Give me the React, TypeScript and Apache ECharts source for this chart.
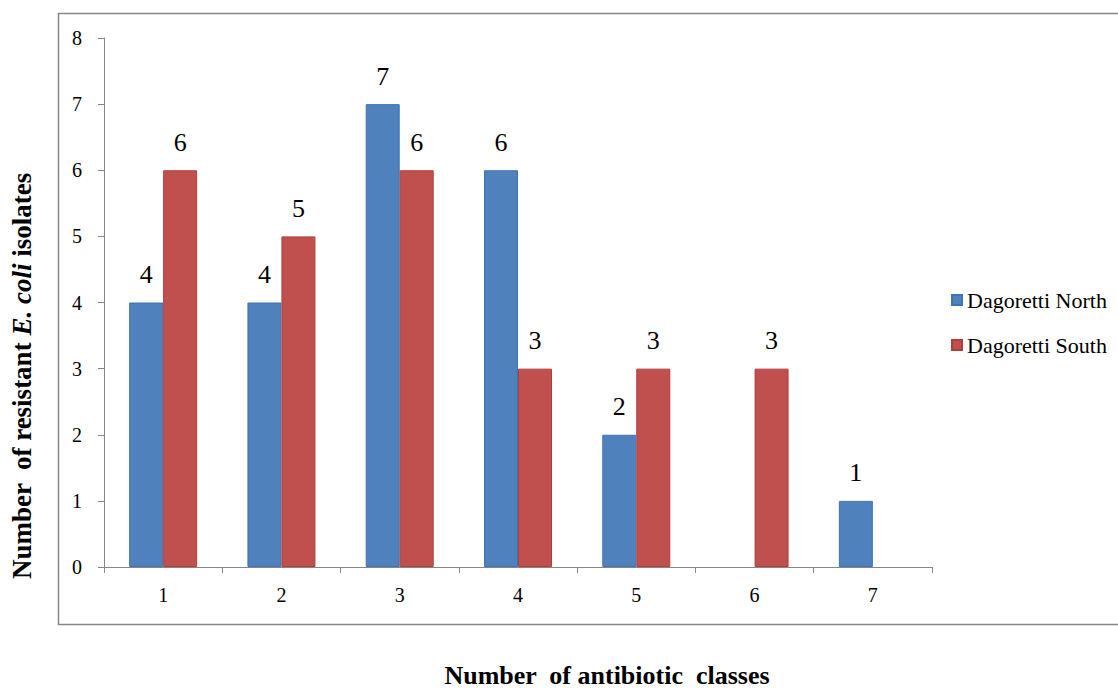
import React, { useEffect, useRef } from "react";
import * as echarts from "echarts";

const categories = ["1", "2", "3", "4", "5", "6", "7"];
const northValues = [4, 4, 7, 6, 2, 0, 1];
const southValues = [6, 5, 6, 3, 3, 3, 0];
const seriesNames = ["Dagoretti North", "Dagoretti South"];

const FONT = "Liberation Serif";

// zero-valued bars get no outline so they leave no sliver on the axis
const toItems = (vals: number[]) =>
  vals.map((v) => (v === 0 ? { value: v, itemStyle: { borderWidth: 0 } } : v));

export default function App() {
  const ref = useRef<HTMLDivElement>(null);

  useEffect(() => {
    if (!ref.current) return;
    const chart = echarts.init(ref.current, undefined, { renderer: "svg" });

    const labelCfg = {
      show: true,
      position: "top" as const,
      distance: 15,
      fontFamily: FONT,
      fontSize: 26,
      color: "#000",
      formatter: (p: any) => (p.value === 0 ? "" : String(p.value)),
    };

    chart.setOption({
      animation: false,
      backgroundColor: "#fff",
      textStyle: { fontFamily: FONT },
      grid: { left: 104, right: 186, top: 38, bottom: 124 },
      legend: {
        orient: "vertical",
        left: 946,
        top: 283,
        itemWidth: 10,
        itemHeight: 10,
        itemGap: 21,
        icon: "rect",
        textStyle: { fontFamily: FONT, fontSize: 22, color: "#000", lineHeight: 24 },
        data: seriesNames,
      },
      xAxis: {
        type: "category",
        data: categories,
        axisLine: { lineStyle: { color: "#868686", width: 1 } },
        axisTick: { show: true, length: 6, lineStyle: { color: "#868686" } },
        axisLabel: { fontFamily: FONT, fontSize: 20, color: "#000", margin: 18 },
      },
      yAxis: {
        type: "value",
        min: 0,
        max: 8,
        interval: 1,
        axisLine: { show: true, lineStyle: { color: "#868686", width: 1 } },
        axisTick: { show: true, length: 6, lineStyle: { color: "#868686" } },
        splitLine: { show: false },
        axisLabel: { fontFamily: FONT, fontSize: 20, color: "#000", margin: 22 },
      },
      series: [
        {
          name: seriesNames[0],
          type: "bar",
          data: toItems(northValues),
          barWidth: 34,
          barGap: "0%",
          itemStyle: { color: "#4F81BD", borderColor: "#3F73B3", borderWidth: 1 },
          label: labelCfg,
        },
        {
          name: seriesNames[1],
          type: "bar",
          data: toItems(southValues),
          barWidth: 34,
          barGap: "0%",
          itemStyle: { color: "#C0504D", borderColor: "#B03F3C", borderWidth: 1 },
          label: labelCfg,
        },
      ],
      graphic: [
        {
          type: "rect",
          shape: { x: 58.5, y: 13.5, width: 1080, height: 611 },
          style: { fill: "none", stroke: "#868686", lineWidth: 1.5 },
          silent: true,
          z: -1,
        },
        {
          type: "text",
          x: 22,
          y: 376,
          rotation: Math.PI / 2,
          style: {
            text: "{a|Number  of resistant }{b|E. coli}{a| isolates}",
            align: "center",
            verticalAlign: "middle",
            rich: {
              a: { fontFamily: FONT, fontSize: 27, fontWeight: "bold", fill: "#000" },
              b: { fontFamily: FONT, fontSize: 27, fontWeight: "bold", fontStyle: "italic", fill: "#000" },
            },
          },
        },
        {
          type: "text",
          x: 607,
          y: 675,
          style: {
            text: "Number  of antibiotic  classes",
            align: "center",
            verticalAlign: "middle",
            fontFamily: FONT,
            fontSize: 26,
            fontWeight: "bold",
            fill: "#000",
          },
        },
      ],
    });

    return () => chart.dispose();
  }, []);

  return (
    <div
      ref={ref}
      style={{ position: "fixed", left: 0, top: 0, width: 1118, height: 691 }}
    />
  );
}
